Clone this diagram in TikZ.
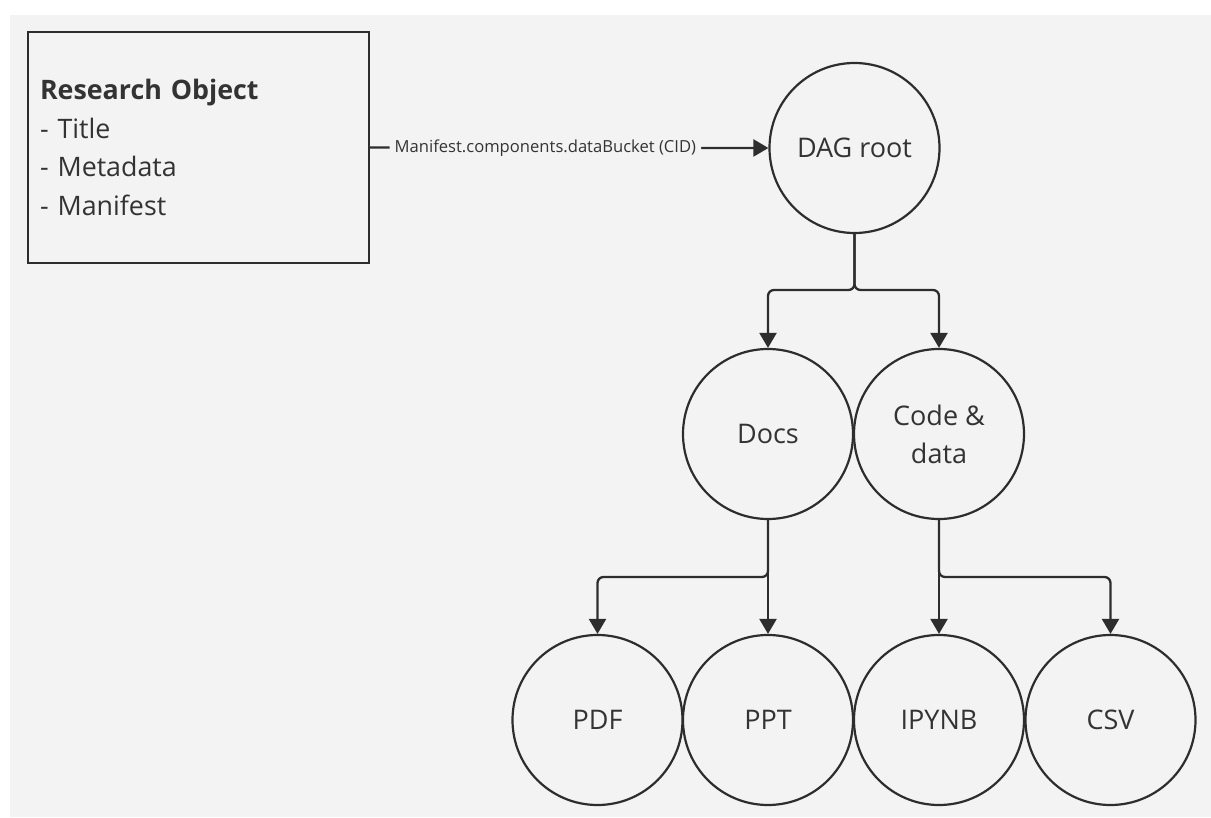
\documentclass[tikz,border=0pt]{standalone}
\usepackage{fontspec}
\setmainfont{Open Sans}
\usetikzlibrary{arrows.meta}
\definecolor{bg}{HTML}{F3F3F3}
\definecolor{ink}{HTML}{2D2D2D}
\definecolor{txt}{HTML}{333333}

\begin{document}
\begin{tikzpicture}[x=1pt,y=-1pt,
  circ/.style={circle, draw=ink, line width=2.2pt, minimum size=170pt, inner sep=0pt,
    font=\fontsize{27}{38}\selectfont, text=txt, align=center},
  objbox/.style={rectangle, draw=ink, line width=2.2pt, minimum width=341pt, minimum height=231pt,
    inner xsep=12pt, text width=317pt, align=left, text=txt,
    font=\fontsize{26.8}{38.5}\selectfont},
  conn/.style={draw=ink, line width=2.3pt, rounded corners=6pt,
    -{Triangle[length=15pt,width=17pt]}},
  edgelabel/.style={fill=bg, text=txt, inner xsep=5pt, inner ysep=2pt,
    font=\fontsize{16.6}{19}\selectfont}
]
\useasboundingbox (0,0) rectangle (1211,818);
\fill[bg] (10,15) rectangle (1211,817);

% Research object card
\node[objbox] (ro) at (198.5,147.5)
  {\textbf{Research Object}\\- Title\\- Metadata\\- Manifest};

% DAG tree
\node[circ] (dag) at (854.5,148) {DAG root};
\node[circ] (docs) at (768,434) {Docs};
\node[circ] (code) at (939,434) {Code \&\\data};
\node[circ] (pdf) at (597.5,720) {PDF};
\node[circ] (ppt) at (768,720) {PPT};
\node[circ] (ipynb) at (939,720) {IPYNB};
\node[circ] (csv) at (1110.5,720) {CSV};

% Branch points
\coordinate (s1) at (854.5,290);
\coordinate (s2) at (768,577);
\coordinate (s3) at (939,577);

% Manifest link into the DAG root
\draw[conn] (ro.east) -- node[edgelabel, pos=0.44] {Manifest.components.dataBucket (CID)} (dag.west);

% Tree edges
\draw[conn] (dag.south) -- (s1) -| (docs.north);
\draw[conn] (dag.south) -- (s1) -| (code.north);
\draw[conn] (docs.south) -- (s2) -| (pdf.north);
\draw[conn] (docs.south) -- (ppt.north);
\draw[conn] (code.south) -- (ipynb.north);
\draw[conn] (code.south) -- (s3) -| (csv.north);
\end{tikzpicture}
\end{document}
